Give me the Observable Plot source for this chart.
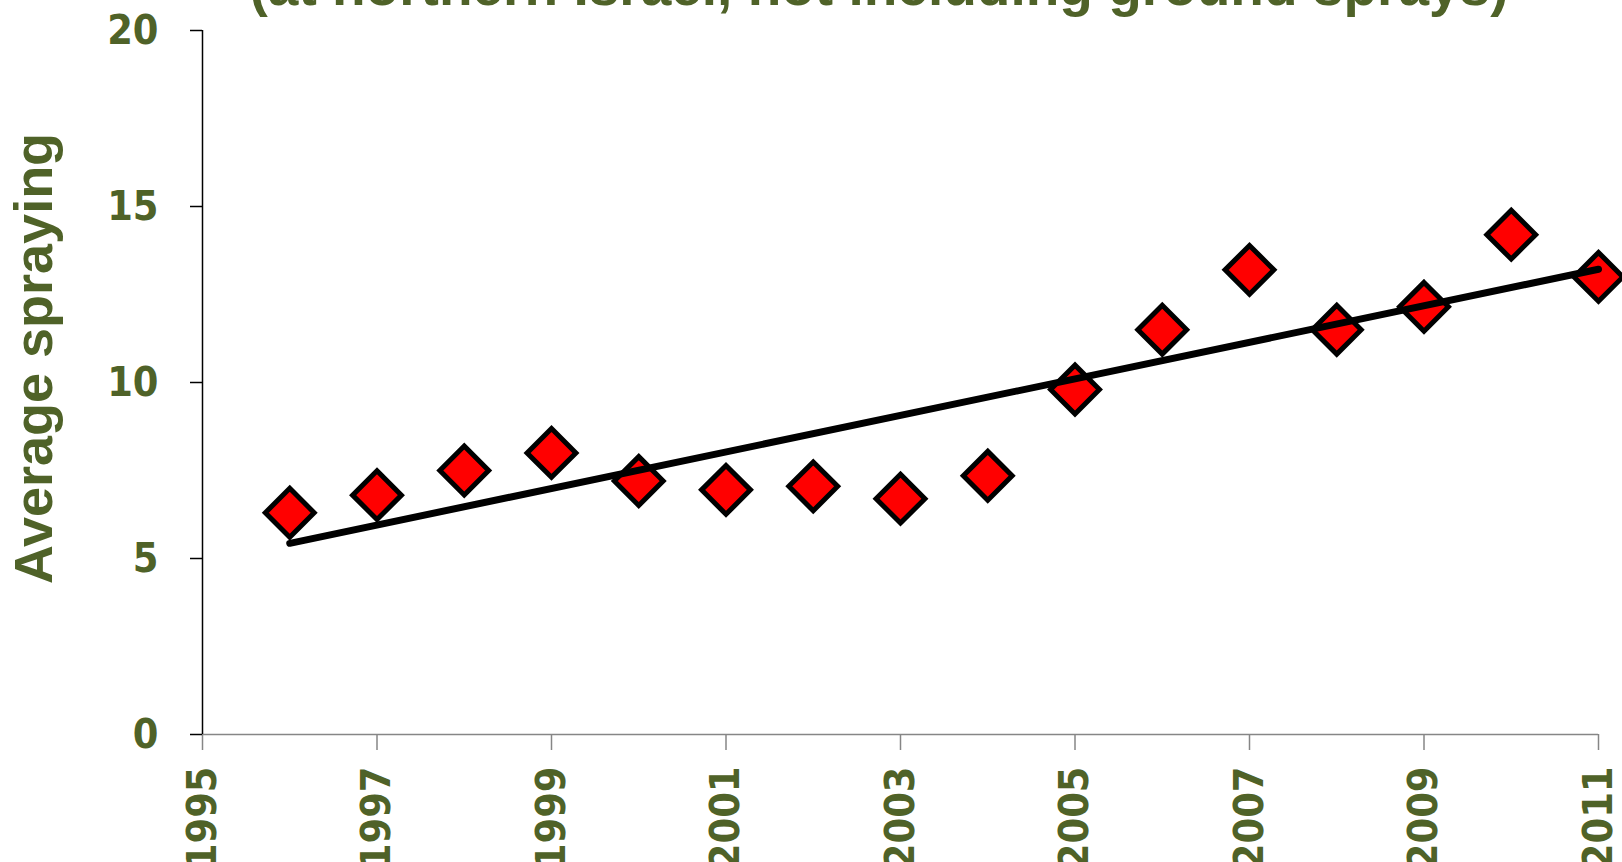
<!DOCTYPE html>
<html>
<head>
<meta charset="utf-8">
<script src="https://cdn.jsdelivr.net/npm/d3@7"></script>
<script src="https://cdn.jsdelivr.net/npm/@observablehq/plot@0.6"></script>
<style>
  html, body { margin: 0; padding: 0; background: #ffffff; overflow: hidden; }
  #wrap { position: relative; width: 1622px; height: 862px; overflow: hidden; }
  #title {
    position: absolute; left: 879px; top: -41px; transform: translateX(-50%);
    white-space: nowrap; line-height: 55px;
    font-family: "Liberation Sans", Arial, sans-serif;
    font-weight: bold; font-size: 55px; color: #4F6228;
  }
  #chart { position: absolute; left: 0; top: 0; }
  g[aria-label="x-axis tick label"], g[aria-label="y-axis tick label"] {
    font-family: "DejaVu Sans Condensed", "DejaVu Sans", Verdana, sans-serif;
    font-stretch: condensed; font-weight: bold; font-size: 41px;
  }
</style>
</head>
<body>
<div id="wrap">
  <div id="chart"></div>
  <div id="title">(at northern Israel, not including ground sprays)</div>
</div>
<script>
const years = [1996, 1997, 1998, 1999, 2000, 2001, 2002, 2003, 2004, 2005, 2006, 2007, 2008, 2009, 2010, 2011];
const spraying = [6.3, 6.8, 7.5, 8.0, 7.2, 6.95, 7.05, 6.7, 7.35, 9.8, 11.5, 13.2, 11.5, 12.15, 14.2, 13.0];
const xTicks = [1995, 1997, 1999, 2001, 2003, 2005, 2007, 2009, 2011];
const yTicks = [0, 5, 10, 15, 20];
const yLabel = ["Average spraying"];

const data = years.map((year, i) => ({year, value: spraying[i]}));
const green = "#4F6228";

const chart = Plot.plot({
  width: 1622,
  height: 862,
  marginLeft: 202,
  marginRight: 24,
  marginTop: 30,
  marginBottom: 128,
  style: {background: "#ffffff", overflow: "visible"},
  x: {domain: [1995, 2011]},
  y: {domain: [0, 20]},
  marks: [
    Plot.axisX({ticks: xTicks, tickSize: 16, tickPadding: 16, tickRotate: -90, tickFormat: d => String(d),
      stroke: "#868686", strokeWidth: 1.5, fill: green, label: null}),
    Plot.axisY({ticks: yTicks, tickSize: 12, tickPadding: 32, tickFormat: d => String(d),
      stroke: "#000000", strokeWidth: 1.5, fill: green, label: null}),
    Plot.ruleY([0], {stroke: "#868686", strokeWidth: 1.5}),
    Plot.ruleX([1995], {stroke: "#000000", strokeWidth: 1.5}),
    Plot.text(yLabel, {text: d => d, frameAnchor: "left", textAnchor: "middle", rotate: -90, dx: -189, dy: -24, lineAnchor: "top",
      fill: green, fontSize: 54, fontWeight: "bold",
      fontFamily: "'Liberation Sans', Arial, sans-serif"}),
    Plot.dot(data, {x: "year", y: "value", symbol: "diamond2", r: 22, fill: "#FF0000", stroke: "#000000", strokeWidth: 5}),
    Plot.linearRegressionY(data, {x: "year", y: "value", ci: 0, stroke: "#000000", strokeWidth: 7, strokeLinecap: "round"})
  ]
});
document.getElementById("chart").appendChild(chart);
</script>
</body>
</html>
